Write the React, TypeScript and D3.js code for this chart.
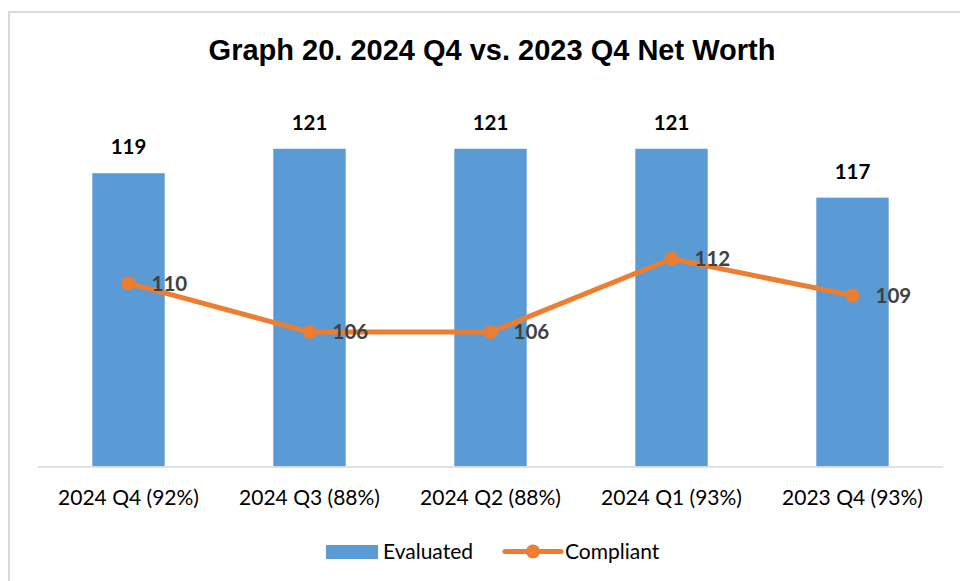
import React from "react";
import * as d3 from "d3";

const categories = ["2024 Q4 (92%)", "2024 Q3 (88%)", "2024 Q2 (88%)", "2024 Q1 (93%)", "2023 Q4 (93%)"];
const evaluated = [119, 121, 121, 121, 117];
const compliant = [110, 106, 106, 112, 109];
const seriesNames = ["Evaluated", "Compliant"];
const title = "Graph 20. 2024 Q4 vs. 2023 Q4 Net Worth";

const W = 960;
const H = 581;
const BLUE = "#5B9BD5";
const ORANGE = "#ED7D31";
const FONT = "Lato, 'Open Sans', sans-serif";

export default function App() {
  const x = d3.scaleBand<string>().domain(categories).range([38, 943]).paddingInner(0).paddingOuter(0);
  const y = d3.scaleLinear().domain([95, 125]).range([466.5, 99.9]);
  const barW = x.bandwidth() * 0.4;
  const cx = (c: string) => (x(c) as number) + x.bandwidth() / 2;
  const line = d3
    .line<number>()
    .x((_, i) => cx(categories[i]))
    .y((d) => y(d));

  return (
    <svg width={W} height={H} style={{ position: "absolute", left: 0, top: 0, background: "#fff" }}>
      <rect x={0} y={0} width={W} height={H} fill="#fff" />
      <path d={`M9,${H} V12 H${W}`} fill="none" stroke="#d9d9d9" strokeWidth={2} />
      <text x={492} y={60} textAnchor="middle" fontFamily="'Liberation Sans', Arial, sans-serif" fontWeight="bold" fontSize={29} fill="#000">
        {title}
      </text>
      {categories.map((c, i) => (
        <rect key={c} x={cx(c) - barW / 2} y={y(evaluated[i])} width={barW} height={y(95) - y(evaluated[i])} fill={BLUE} />
      ))}
      <line x1={38} x2={943} y1={y(95) + 0.5} y2={y(95) + 0.5} stroke="#d9d9d9" strokeWidth={1.5} />
      {categories.map((c, i) => (
        <text key={c} x={cx(c)} y={y(evaluated[i]) - 19} textAnchor="middle" fontFamily={FONT} fontWeight="bold" fontSize={20.5} fill="#000">
          {evaluated[i]}
        </text>
      ))}
      <path d={line(compliant) || ""} fill="none" stroke={ORANGE} strokeWidth={5} strokeLinejoin="round" />
      {categories.map((c, i) => (
        <circle key={c} cx={cx(c)} cy={y(compliant[i])} r={7} fill={ORANGE} />
      ))}
      {categories.map((c, i) => (
        <text key={c} x={cx(c) + 23} y={y(compliant[i])} dy="0.36em" fontFamily={FONT} fontWeight="bold" fontSize={20.5} fill="#404040">
          {compliant[i]}
        </text>
      ))}
      {categories.map((c) => (
        <text key={c} x={cx(c)} y={505} textAnchor="middle" fontFamily={FONT} fontSize={21} fill="#000">
          {c}
        </text>
      ))}
      <rect x={326} y={545} width={52} height={14} fill={BLUE} />
      <text x={383} y={559} fontFamily={FONT} fontSize={21} fill="#000">
        {seriesNames[0]}
      </text>
      <line x1={505} x2={561} y1={551.5} y2={551.5} stroke={ORANGE} strokeWidth={5} strokeLinecap="round" />
      <circle cx={533} cy={551.5} r={7} fill={ORANGE} />
      <text x={565} y={559} fontFamily={FONT} fontSize={21} fill="#000">
        {seriesNames[1]}
      </text>
    </svg>
  );
}
